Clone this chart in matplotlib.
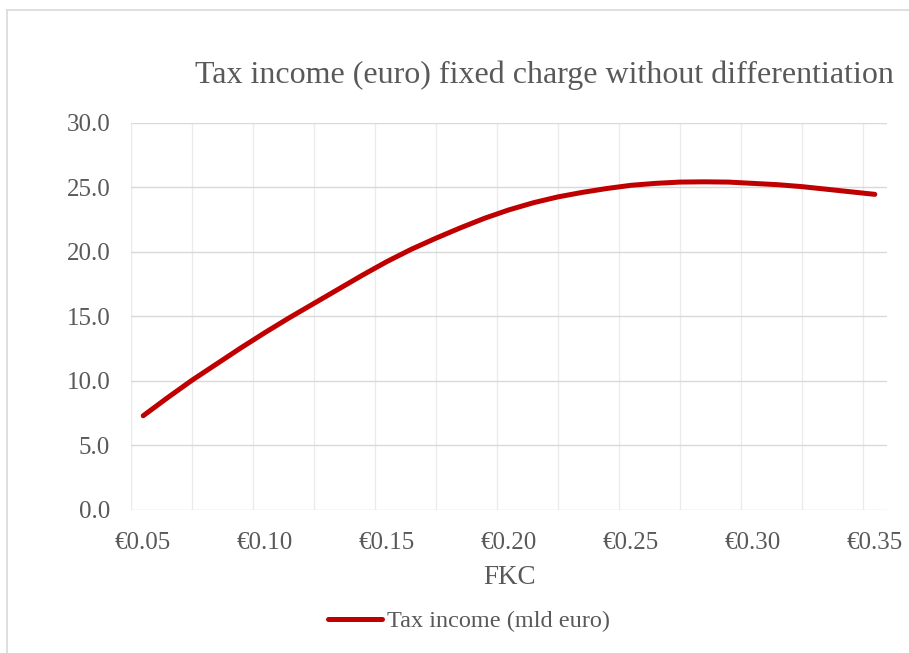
import numpy as np
import matplotlib.pyplot as plt
from matplotlib.ticker import FuncFormatter

# fixed charge per unit (euro) and resulting tax income (billion euro)
fkc = [0.05, 0.06, 0.07, 0.08, 0.09, 0.10, 0.11, 0.12, 0.13, 0.14, 0.15,
       0.16, 0.17, 0.18, 0.19, 0.20, 0.21, 0.22, 0.23, 0.24, 0.25,
       0.26, 0.27, 0.28, 0.29, 0.30, 0.31, 0.32, 0.33, 0.34, 0.35]
tax_income = [7.3, 8.7, 10.05, 11.3, 12.55, 13.75, 14.9, 16.0, 17.1, 18.2, 19.25,
              20.2, 21.05, 21.85, 22.6, 23.25, 23.8, 24.25, 24.6, 24.9, 25.15,
              25.3, 25.4, 25.42, 25.4, 25.3, 25.2, 25.05, 24.85, 24.65, 24.45]
x_ticks = [0.05, 0.10, 0.15, 0.20, 0.25, 0.30, 0.35]
y_ticks = [0.0, 5.0, 10.0, 15.0, 20.0, 25.0, 30.0]

title = "Tax income (euro) fixed charge without differentiation"
series_name = "Tax income (mld euro)"
x_label = "FKC"

text_grey = "#595959"
line_red = "#c00000"
serif = ["Liberation Serif", "DejaVu Serif"]

W, H = 909, 653
fig = plt.figure(figsize=(W / 100, H / 100), dpi=100)

# chart area frame, only top and left edges are visible
fig.add_artist(plt.Line2D([7 / W, 7 / W], [0, 1 - 10 / H], color="#d9d9d9", lw=1.2))
fig.add_artist(plt.Line2D([7 / W, 1], [1 - 10 / H, 1 - 10 / H], color="#d9d9d9", lw=1.2))

ax = fig.add_axes([131 / W, 1 - 510 / H, 756 / W, (510 - 122.7) / H])

ax.plot(fkc, tax_income, color=line_red, lw=3.6, solid_capstyle="round",
        solid_joinstyle="round", label=series_name, zorder=3)

step = fkc[1] - fkc[0]
x_lo, x_hi = fkc[0] - step / 2, fkc[-1] + step / 2
ax.set_xlim(x_lo, x_hi)
ax.set_ylim(0, 30)

# light vertical grid, slightly darker horizontal grid
for gx in np.arange(x_lo, x_hi, 0.025):
    ax.axvline(gx, color="#ebebeb", lw=1.0, zorder=1)
for gy in y_ticks:
    ax.axhline(gy, color="#d9d9d9", lw=1.0, zorder=2)

ax.set_xticks(x_ticks)
ax.set_yticks(y_ticks)
ax.xaxis.set_major_formatter(FuncFormatter(lambda v, p: "\u20ac{:.2f}".format(v)))
ax.yaxis.set_major_formatter(FuncFormatter(lambda v, p: "{:.1f}".format(v)))
ax.tick_params(length=0, labelsize=18, labelcolor=text_grey)
ax.tick_params(axis="x", pad=16)
ax.tick_params(axis="y", pad=15)
for lbl in ax.get_xticklabels() + ax.get_yticklabels():
    lbl.set_family(serif)

for side in ["top", "right", "bottom", "left"]:
    ax.spines[side].set_visible(False)

fig.text(544 / W, 1 - 83 / H, title, ha="center", va="baseline",
         fontsize=23, color=text_grey, family=serif)
fig.text(510 / W, 1 - 578 / H, x_label, ha="center", va="center",
         fontsize=19.5, color=text_grey, family=serif)

leg = fig.legend(loc="center", bbox_to_anchor=(469 / W, 1 - 621 / H),
                 frameon=False, handlelength=2.2, handletextpad=0.2,
                 prop={"family": serif, "size": 17.5})
for t in leg.get_texts():
    t.set_color(text_grey)

fig.savefig("out.png", dpi=100, facecolor="white")
